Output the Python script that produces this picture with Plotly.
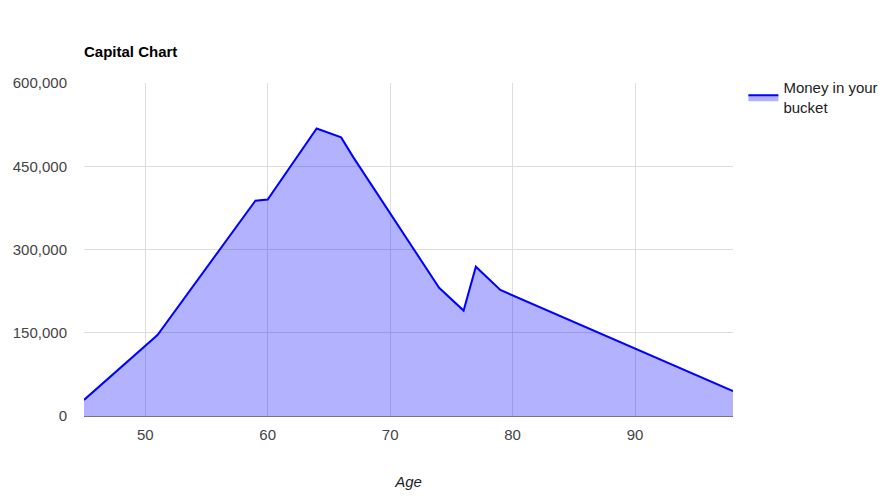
import plotly.graph_objects as go

ages = [45, 51, 59, 60, 64, 66, 67, 74, 76, 77, 79, 98]
money = [29000, 146000, 388000, 390000, 518000, 502000, 466000, 231000, 190000, 269000, 227000, 45000]
x_ticks = [50, 60, 70, 80, 90]
y_ticks = [0, 150000, 300000, 450000, 600000]

FONT = "Arial, Liberation Sans, sans-serif"
W, H = 879, 493

fig = go.Figure()
fig.add_trace(go.Scatter(
    x=ages, y=money, mode="lines", name="Money in your<br>bucket",
    line=dict(color="#0000ff", width=2),
    fill="tozeroy", fillcolor="rgba(0,0,255,0.3)",
))

fig.update_layout(
    width=W, height=H,
    margin=dict(l=76, r=154, t=75, b=85, autoexpand=False),
    paper_bgcolor="white", plot_bgcolor="white",
    font=dict(family=FONT, size=15, color="#444"),
    title=dict(text="<b>Capital Chart</b>", x=76/W, xanchor="left",
               y=1-44/H, yanchor="middle", font=dict(size=15, color="#000")),
    showlegend=True,
    legend=dict(x=1.016, y=1.035, xanchor="left", yanchor="top",
                font=dict(size=15, color="#222"), bgcolor="rgba(0,0,0,0)"),
    xaxis=dict(range=[45, 98], tickvals=x_ticks, showgrid=True, gridcolor="#ddd",
               zeroline=False, showline=False, ticks="", ticklabelstandoff=8,
               automargin=False,
               title=dict(text="<i>Age</i>", font=dict(size=15, color="#222"), standoff=34)),
    yaxis=dict(range=[0, 600000], tickvals=y_ticks, tickformat=",", showgrid=True,
               gridcolor="#ddd", zeroline=True, zerolinecolor="#777", zerolinewidth=1,
               showline=False, ticks="", ticklabelstandoff=16, automargin=False),
)

fig.write_html("out.html")
